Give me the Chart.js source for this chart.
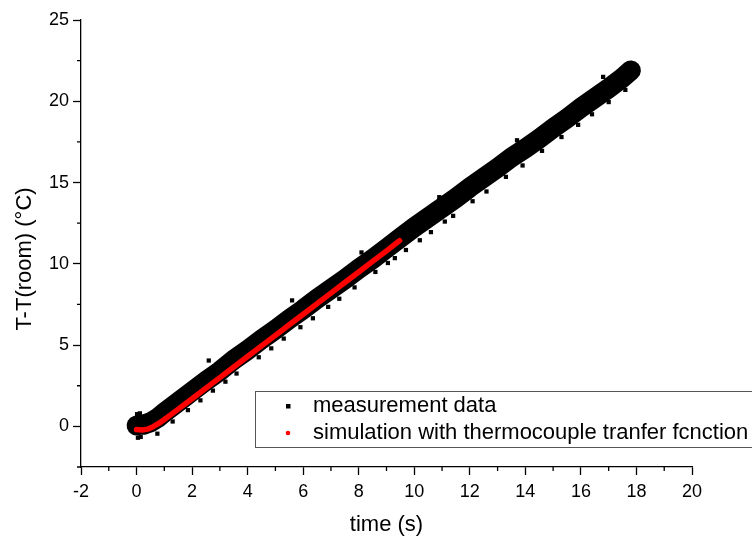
<!DOCTYPE html>
<html>
<head>
<meta charset="utf-8">
<title>T-T(room) vs time</title>
<script src="https://cdn.jsdelivr.net/npm/chart.js@4.4.0/dist/chart.umd.min.js"></script>
<style>
  body { margin: 0; background: #fff; }
  canvas { display: block; }
</style>
</head>
<body>
<canvas id="myChart" width="752" height="540"></canvas>
<script>
var measTime = [0, 0.1, 0.25, 0.5, 0.75, 1, 1.5, 2, 2.5, 3, 3.5, 4, 4.5, 5, 5.5, 6, 6.5, 7, 7.5, 8,
                8.5, 9, 9.5, 10, 10.5, 11, 11.5, 12, 12.5, 13, 13.5, 14, 14.5, 15, 15.5, 16, 16.5, 17, 17.5, 17.8];
var measTemp = [0.05, 0.1, 0.1, 0.25, 0.5, 0.85, 1.5, 2.15, 2.8, 3.4, 4.1, 4.7, 5.35, 5.95, 6.6, 7.2, 7.85, 8.45, 9.05, 9.7,
                10.3, 10.95, 11.6, 12.25, 12.85, 13.45, 14.05, 14.7, 15.3, 15.9, 16.55, 17.1, 17.7, 18.35, 18.95, 19.6, 20.2, 20.8, 21.45, 21.9];

// measurement points on the ragged edges of the band
var strayTime = [0.02, 0.05, 0.12, 0.15, 0.3, 0.75, 1.3, 1.85, 2.3, 2.6, 2.75, 3.2, 3.6, 4.4, 4.85, 5.3, 5.6, 5.9, 6.35, 6.9,
                 7.3, 7.85, 8.1, 8.6, 9.05, 9.3, 9.7, 10.2, 10.6, 10.9, 11.1, 11.4, 12.1, 12.6, 13.3, 13.7, 13.9, 14.6, 15.3, 15.9,
                 16.4, 16.8, 17.0, 17.6];
var strayTemp = [0.75, -0.7, 0.8, -0.65, 0.6, -0.45, 0.3, 1.0, 1.6, 4.05, 2.2, 2.75, 3.25, 4.25, 4.8, 5.4, 7.75, 6.1, 6.65, 7.35,
                 7.85, 8.55, 10.7, 9.5, 10.05, 10.35, 10.85, 11.45, 11.95, 14.1, 12.6, 12.95, 13.85, 14.45, 15.35, 17.6, 16.05, 16.95, 17.8, 18.55,
                 19.2, 21.5, 19.95, 20.7];

// simulation with thermocouple transfer function
var simTime = [0, 0.2, 0.4, 0.6, 0.8, 1, 1.25, 1.5, 2, 2.5, 3, 3.5, 4, 4.5, 5, 5.5, 6, 6.5, 7, 7.5, 8, 8.5, 9, 9.47];
var simTemp = [-0.2, -0.22, -0.17, -0.02, 0.18, 0.42, 0.74, 1.06, 1.7, 2.35, 3.0, 3.65, 4.3, 4.95, 5.6, 6.25, 6.9, 7.55, 8.2, 8.85,
               9.5, 10.15, 10.8, 11.43];

// axis ticks
var xTicks = [-2, 0, 2, 4, 6, 8, 10, 12, 14, 16, 18, 20];
var xMinor = [-1, 1, 3, 5, 7, 9, 11, 13, 15, 17, 19];
var yTicks = [0, 5, 10, 15, 20, 25];
var yMinor = [-2.5, 2.5, 7.5, 12.5, 17.5, 22.5];

function pts(xs, ys) {
    return xs.map(function (x, i) { return { x: x, y: ys[i] }; });
}

Chart.defaults.font.family = '"Liberation Sans", Arial, sans-serif';
Chart.defaults.color = '#000';

var FONT = '"Liberation Sans", Arial, sans-serif';

// minor ticks, axis titles and the boxed legend
var extras = {
    id: 'extras',
    afterDraw: function (chart) {
        var c = chart.ctx, xs = chart.scales.x, ys = chart.scales.y;
        c.save();
        c.strokeStyle = '#000';
        c.lineWidth = 1.3;
        c.beginPath();
        xMinor.forEach(function (v) {
            var px = xs.getPixelForValue(v);
            c.moveTo(px, xs.top);
            c.lineTo(px, xs.top + 4);
        });
        yMinor.forEach(function (v) {
            var py = ys.getPixelForValue(v);
            c.moveTo(ys.right, py);
            c.lineTo(ys.right - 4, py);
        });
        c.stroke();

        c.fillStyle = '#000';
        c.font = '22px ' + FONT;
        c.textAlign = 'center';
        c.textBaseline = 'middle';
        c.fillText('time (s)', (xs.left + xs.right) / 2, 525);
        c.save();
        c.translate(25, 259);
        c.rotate(-Math.PI / 2);
        c.fillText('T-T(room) (°C)', 0, 0);
        c.restore();

        // legend
        var ds = chart.data.datasets;
        c.strokeStyle = '#555';
        c.lineWidth = 1;
        c.strokeRect(255.5, 391.5, 520, 56);
        c.fillStyle = '#000';
        c.fillRect(286, 404, 4.5, 4.5);
        c.fillStyle = '#ff0000';
        c.beginPath();
        c.arc(288, 433, 2.3, 0, Math.PI * 2);
        c.fill();
        c.fillStyle = '#000';
        c.textAlign = 'left';
        c.fillText(ds[2].label, 313, 406);
        c.fillText(ds[0].label, 313, 433);
        c.restore();
    }
};

var ctx = document.getElementById('myChart').getContext('2d');
var chart = new Chart(ctx, {
    type: 'scatter',
    data: {
        datasets: [{
            label: 'simulation with thermocouple tranfer fcnction',
            data: pts(simTime, simTemp),
            showLine: true,
            borderColor: '#ff0000',
            backgroundColor: '#ff0000',
            borderWidth: 5.5,
            borderCapStyle: 'round',
            borderJoinStyle: 'round',
            pointRadius: 0,
            order: 0
        }, {
            label: 'measurement data (edges)',
            data: pts(strayTime, strayTemp),
            pointStyle: 'rect',
            pointRadius: 3,
            backgroundColor: '#000',
            borderWidth: 0,
            order: 1
        }, {
            label: 'measurement data',
            data: pts(measTime, measTemp),
            showLine: true,
            borderColor: '#000',
            backgroundColor: '#000',
            borderWidth: 20,
            borderCapStyle: 'round',
            borderJoinStyle: 'round',
            pointRadius: 0,
            order: 2
        }]
    },
    options: {
        responsive: false,
        animation: false,
        layout: { padding: { left: 0, top: 20, right: 60, bottom: 0 } },
        plugins: {
            legend: { display: false },
            tooltip: { enabled: false }
        },
        scales: {
            x: {
                type: 'linear',
                min: -2,
                max: 20,
                afterBuildTicks: function (s) { s.ticks = xTicks.map(function (v) { return { value: v }; }); },
                afterFit: function (s) { s.height = 73; },
                grid: { drawOnChartArea: false, tickLength: 8, tickColor: '#000', tickWidth: 1.3 },
                border: { color: '#000', width: 1.3 },
                ticks: { font: { size: 18 }, padding: 6, maxRotation: 0 }
            },
            y: {
                type: 'linear',
                min: -2.5,
                max: 25,
                afterBuildTicks: function (s) { s.ticks = yTicks.map(function (v) { return { value: v }; }); },
                afterFit: function (s) { s.width = 81; },
                grid: { drawOnChartArea: false, tickLength: 8, tickColor: '#000', tickWidth: 1.3 },
                border: { color: '#000', width: 1.3 },
                ticks: { font: { size: 18 }, padding: 4 }
            }
        }
    },
    plugins: [extras]
});
</script>
</body>
</html>
